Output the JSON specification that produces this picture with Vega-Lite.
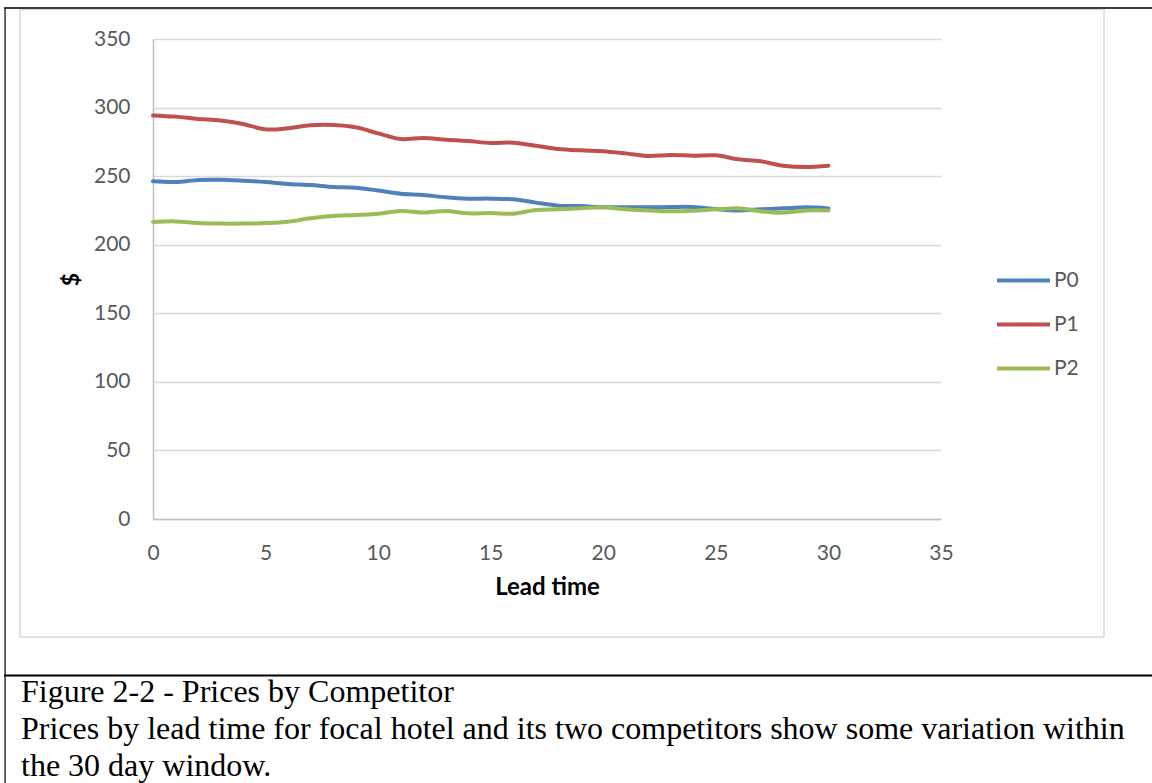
{
  "$schema": "https://vega.github.io/schema/vega-lite/v6.json",
  "width": 788,
  "height": 480,
  "autosize": {"type": "none"},
  "padding": {"left": 153, "top": 39, "right": 211, "bottom": 264},
  "background": "white",
  "config": {
    "view": {"stroke": null},
    "axis": {
      "labelFont": "Lato",
      "labelFontSize": 21,
      "labelColor": "#595959",
      "labelFlush": false,
      "titleFont": "Lato",
      "titleFontWeight": "bold",
      "titleColor": "black",
      "ticks": false,
      "domainColor": "#bfbfbf",
      "domainWidth": 1.5,
      "gridColor": "#d9d9d9",
      "gridWidth": 1.3,
      "labelPadding": 23
    }
  },
  "resolve": {"axis": {"x": "independent", "y": "independent"}},
  "datasets": {
    "prices": [
      {"lead": 0, "series": "P0", "price": 246.2}, {"lead": 1, "series": "P0", "price": 245.7},
      {"lead": 2, "series": "P0", "price": 247.2}, {"lead": 3, "series": "P0", "price": 247.4},
      {"lead": 4, "series": "P0", "price": 246.7}, {"lead": 5, "series": "P0", "price": 245.7},
      {"lead": 6, "series": "P0", "price": 244.3}, {"lead": 7, "series": "P0", "price": 243.5},
      {"lead": 8, "series": "P0", "price": 242.1}, {"lead": 9, "series": "P0", "price": 241.6},
      {"lead": 10, "series": "P0", "price": 239.5}, {"lead": 11, "series": "P0", "price": 237.2},
      {"lead": 12, "series": "P0", "price": 236.3}, {"lead": 13, "series": "P0", "price": 234.6},
      {"lead": 14, "series": "P0", "price": 233.6}, {"lead": 15, "series": "P0", "price": 233.6},
      {"lead": 16, "series": "P0", "price": 233.1}, {"lead": 17, "series": "P0", "price": 230.7},
      {"lead": 18, "series": "P0", "price": 228.5}, {"lead": 19, "series": "P0", "price": 228.2},
      {"lead": 20, "series": "P0", "price": 227.3}, {"lead": 21, "series": "P0", "price": 227.3},
      {"lead": 22, "series": "P0", "price": 227.3}, {"lead": 23, "series": "P0", "price": 227.5},
      {"lead": 24, "series": "P0", "price": 227.5}, {"lead": 25, "series": "P0", "price": 226.0},
      {"lead": 26, "series": "P0", "price": 225.0}, {"lead": 27, "series": "P0", "price": 225.8},
      {"lead": 28, "series": "P0", "price": 226.5}, {"lead": 29, "series": "P0", "price": 227.3},
      {"lead": 30, "series": "P0", "price": 226.5},
      {"lead": 0, "series": "P1", "price": 294.3}, {"lead": 1, "series": "P1", "price": 293.4},
      {"lead": 2, "series": "P1", "price": 291.7}, {"lead": 3, "series": "P1", "price": 290.5},
      {"lead": 4, "series": "P1", "price": 288.0}, {"lead": 5, "series": "P1", "price": 284.1},
      {"lead": 6, "series": "P1", "price": 284.9}, {"lead": 7, "series": "P1", "price": 287.1},
      {"lead": 8, "series": "P1", "price": 287.3}, {"lead": 9, "series": "P1", "price": 285.6},
      {"lead": 10, "series": "P1", "price": 281.2}, {"lead": 11, "series": "P1", "price": 277.1},
      {"lead": 12, "series": "P1", "price": 277.8}, {"lead": 13, "series": "P1", "price": 276.6},
      {"lead": 14, "series": "P1", "price": 275.6}, {"lead": 15, "series": "P1", "price": 274.2},
      {"lead": 16, "series": "P1", "price": 274.4}, {"lead": 17, "series": "P1", "price": 272.2},
      {"lead": 18, "series": "P1", "price": 269.8}, {"lead": 19, "series": "P1", "price": 268.8},
      {"lead": 20, "series": "P1", "price": 268.2}, {"lead": 21, "series": "P1", "price": 266.6},
      {"lead": 22, "series": "P1", "price": 264.7}, {"lead": 23, "series": "P1", "price": 265.4},
      {"lead": 24, "series": "P1", "price": 264.9}, {"lead": 25, "series": "P1", "price": 265.2},
      {"lead": 26, "series": "P1", "price": 262.3}, {"lead": 27, "series": "P1", "price": 260.8},
      {"lead": 28, "series": "P1", "price": 257.6}, {"lead": 29, "series": "P1", "price": 256.7},
      {"lead": 30, "series": "P1", "price": 257.6},
      {"lead": 0, "series": "P2", "price": 216.6}, {"lead": 1, "series": "P2", "price": 217.0},
      {"lead": 2, "series": "P2", "price": 215.8}, {"lead": 3, "series": "P2", "price": 215.4},
      {"lead": 4, "series": "P2", "price": 215.4}, {"lead": 5, "series": "P2", "price": 215.8},
      {"lead": 6, "series": "P2", "price": 216.8}, {"lead": 7, "series": "P2", "price": 219.3},
      {"lead": 8, "series": "P2", "price": 220.9}, {"lead": 9, "series": "P2", "price": 221.7},
      {"lead": 10, "series": "P2", "price": 222.6}, {"lead": 11, "series": "P2", "price": 224.6},
      {"lead": 12, "series": "P2", "price": 223.4}, {"lead": 13, "series": "P2", "price": 224.6},
      {"lead": 14, "series": "P2", "price": 222.9}, {"lead": 15, "series": "P2", "price": 223.1},
      {"lead": 16, "series": "P2", "price": 222.6}, {"lead": 17, "series": "P2", "price": 225.3},
      {"lead": 18, "series": "P2", "price": 225.8}, {"lead": 19, "series": "P2", "price": 226.5},
      {"lead": 20, "series": "P2", "price": 227.3}, {"lead": 21, "series": "P2", "price": 225.8},
      {"lead": 22, "series": "P2", "price": 225.0}, {"lead": 23, "series": "P2", "price": 224.4},
      {"lead": 24, "series": "P2", "price": 224.8}, {"lead": 25, "series": "P2", "price": 225.8},
      {"lead": 26, "series": "P2", "price": 226.5}, {"lead": 27, "series": "P2", "price": 224.4},
      {"lead": 28, "series": "P2", "price": 223.4}, {"lead": 29, "series": "P2", "price": 225.0},
      {"lead": 30, "series": "P2", "price": 225.0}
    ],
    "one": [{}]
  },
  "layer": [
    {
      "description": "Price by lead time, one smoothed line per hotel",
      "data": {"name": "prices"},
      "mark": {"type": "line", "interpolate": "cardinal", "strokeWidth": 4, "strokeCap": "round", "strokeJoin": "round"},
      "encoding": {
        "x": {
          "field": "lead", "type": "quantitative",
          "scale": {"domain": [0, 35], "nice": false},
          "axis": {"values": [0, 5, 10, 15, 20, 25, 30, 35], "grid": false, "title": "Lead time", "titleFontSize": 24, "titlePadding": 12}
        },
        "y": {
          "field": "price", "type": "quantitative",
          "scale": {"domain": [0, 350], "nice": false},
          "axis": {"values": [0, 50, 100, 150, 200, 250, 300, 350], "grid": true, "title": "$", "titleFontSize": 23, "titlePadding": 10}
        },
        "color": {
          "field": "series", "type": "nominal",
          "scale": {"domain": ["P0", "P1", "P2"], "range": ["#4f81bd", "#c0504d", "#9bbb59"]},
          "legend": {
            "title": null,
            "orient": "none",
            "legendX": 842,
            "legendY": 213,
            "padding": 0,
            "symbolType": "stroke",
            "symbolSize": 2809,
            "symbolStrokeWidth": 4,
            "labelFont": "Lato",
            "labelFontSize": 21,
            "labelColor": "#595959",
            "labelOffset": 2,
            "rowPadding": 5
          }
        }
      }
    },
    {
      "description": "Chart-area border",
      "data": {"name": "one"},
      "mark": {"type": "rect", "fill": null, "stroke": "#d9d9d9", "strokeWidth": 1.5},
      "encoding": {
        "x": {"datum": -5.907, "type": "quantitative", "scale": {"domain": [0, 35], "nice": false}, "axis": null},
        "x2": {"datum": 42.24},
        "y": {"datum": 371.5, "type": "quantitative", "scale": {"domain": [0, 350], "nice": false}, "axis": null},
        "y2": {"datum": -86.04}
      }
    },
    {
      "description": "Table cell rules: top edge",
      "data": {"name": "one"},
      "mark": {"type": "rule", "stroke": "black", "strokeWidth": 1.5},
      "encoding": {
        "x": {"datum": -6.62, "type": "quantitative", "scale": {"domain": [0, 35], "nice": false}, "axis": null},
        "x2": {"datum": 44.4},
        "y": {"datum": 372.6, "type": "quantitative", "scale": {"domain": [0, 350], "nice": false}, "axis": null}
      }
    },
    {
      "description": "Table cell rules: left edge",
      "data": {"name": "one"},
      "mark": {"type": "rule", "stroke": "black", "strokeWidth": 1.2},
      "encoding": {
        "x": {"datum": -6.57, "type": "quantitative", "scale": {"domain": [0, 35], "nice": false}, "axis": null},
        "y": {"datum": 372.6, "type": "quantitative", "scale": {"domain": [0, 350], "nice": false}, "axis": null},
        "y2": {"datum": -193}
      }
    },
    {
      "description": "Table cell rules: divider above the caption",
      "data": {"name": "one"},
      "mark": {"type": "rule", "stroke": "black", "strokeWidth": 2},
      "encoding": {
        "x": {"datum": -6.62, "type": "quantitative", "scale": {"domain": [0, 35], "nice": false}, "axis": null},
        "x2": {"datum": 44.4},
        "y": {"datum": -114.1, "type": "quantitative", "scale": {"domain": [0, 350], "nice": false}, "axis": null}
      }
    },
    {
      "description": "Caption line 1",
      "data": {"name": "one"},
      "mark": {"type": "text", "font": "Liberation Serif", "fontSize": 32, "color": "black", "align": "left", "baseline": "alphabetic"},
      "encoding": {
        "x": {"datum": -5.863, "type": "quantitative", "scale": {"domain": [0, 35], "nice": false}, "axis": null},
        "y": {"datum": -133.4, "type": "quantitative", "scale": {"domain": [0, 350], "nice": false}, "axis": null},
        "text": {"value": "Figure 2-2 - Prices by Competitor"}
      }
    },
    {
      "description": "Caption line 2",
      "data": {"name": "one"},
      "mark": {"type": "text", "font": "Liberation Serif", "fontSize": 32, "color": "black", "align": "left", "baseline": "alphabetic"},
      "encoding": {
        "x": {"datum": -5.863, "type": "quantitative", "scale": {"domain": [0, 35], "nice": false}, "axis": null},
        "y": {"datum": -160.4, "type": "quantitative", "scale": {"domain": [0, 350], "nice": false}, "axis": null},
        "text": {"value": "Prices by lead time for focal hotel and its two competitors show some variation within"}
      }
    },
    {
      "description": "Caption line 3",
      "data": {"name": "one"},
      "mark": {"type": "text", "font": "Liberation Serif", "fontSize": 32, "color": "black", "align": "left", "baseline": "alphabetic"},
      "encoding": {
        "x": {"datum": -5.863, "type": "quantitative", "scale": {"domain": [0, 35], "nice": false}, "axis": null},
        "y": {"datum": -187.4, "type": "quantitative", "scale": {"domain": [0, 350], "nice": false}, "axis": null},
        "text": {"value": "the 30 day window."}
      }
    }
  ]
}
